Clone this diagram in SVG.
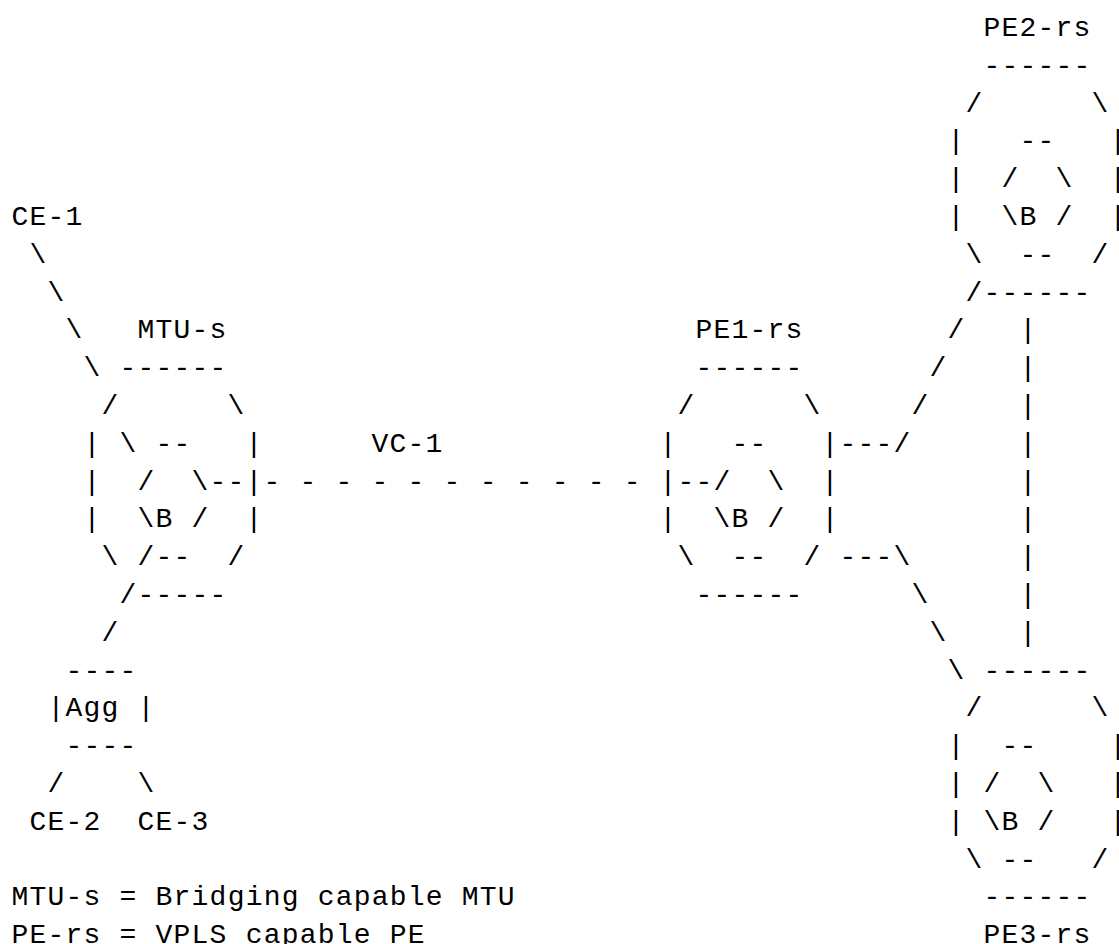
<svg xmlns="http://www.w3.org/2000/svg" width="1119" height="944" viewBox="0 0 1119 944" xml:space="preserve">
<style>
text { font-family: "Liberation Mono", "DejaVu Sans Mono", monospace; font-size: 28px; letter-spacing: 1.2px; fill: #000; white-space: pre; }
</style>
<rect x="0" y="0" width="1119" height="944" fill="#fff"/>
<g id="connectors">
<text x="29.6" y="262.8">\</text>
<text x="47.6" y="300.6">\</text>
<text x="65.6" y="338.4">\</text>
<text x="83.6" y="376.2">\</text>
<text x="101.6" y="640.8">/</text>
<text x="47.6" y="792">/</text>
<text x="137.6" y="792">\</text>
<g id="vc-1">
<text x="371.6" y="451.8">VC-1</text>
<text x="263.6" y="489.6">- - - - - - - - - - -</text>
</g>
<text x="839.6" y="451.8">---/</text>
<text x="911.6" y="414">/</text>
<text x="929.6" y="376.2">/</text>
<text x="947.6" y="338.4">/</text>
<text x="839.6" y="565.2">---\</text>
<text x="911.6" y="603">\</text>
<text x="929.6" y="640.8">\</text>
<text x="947.6" y="678.6">\</text>
<text x="1019.6" y="338.4">|</text>
<text x="1019.6" y="376.2">|</text>
<text x="1019.6" y="414">|</text>
<text x="1019.6" y="451.8">|</text>
<text x="1019.6" y="489.6">|</text>
<text x="1019.6" y="527.4">|</text>
<text x="1019.6" y="565.2">|</text>
<text x="1019.6" y="603">|</text>
<text x="1019.6" y="640.8">|</text>
</g>
<g id="ce-1">
<text x="11.6" y="225">CE-1</text>
</g>
<g id="mtu-s">
<text x="137.6" y="338.4">MTU-s</text>
<text x="119.6" y="376.2">------</text>
<text x="101.6" y="414">/      \</text>
<text x="83.6" y="451.8">| \ --   |</text>
<text x="83.6" y="489.6">|  /  \--|</text>
<text x="83.6" y="527.4">|  \B /  |</text>
<text x="101.6" y="565.2">\ /--  /</text>
<text x="119.6" y="603">/-----</text>
</g>
<g id="agg">
<text x="65.6" y="678.6">----</text>
<text x="47.6" y="716.4">|Agg |</text>
<text x="65.6" y="754.2">----</text>
</g>
<g id="ce-2">
<text x="29.6" y="829.8">CE-2</text>
</g>
<g id="ce-3">
<text x="137.6" y="829.8">CE-3</text>
</g>
<g id="pe1-rs">
<text x="695.6" y="338.4">PE1-rs</text>
<text x="695.6" y="376.2">------</text>
<text x="677.6" y="414">/      \</text>
<text x="659.6" y="451.8">|   --   |</text>
<text x="659.6" y="489.6">|--/  \  |</text>
<text x="659.6" y="527.4">|  \B /  |</text>
<text x="677.6" y="565.2">\  --  /</text>
<text x="695.6" y="603">------</text>
</g>
<g id="pe2-rs">
<text x="983.6" y="36">PE2-rs</text>
<text x="983.6" y="73.8">------</text>
<text x="965.6" y="111.6">/      \</text>
<text x="947.6" y="149.4">|   --   |</text>
<text x="947.6" y="187.2">|  /  \  |</text>
<text x="947.6" y="225">|  \B /  |</text>
<text x="965.6" y="262.8">\  --  /</text>
<text x="965.6" y="300.6">/------</text>
</g>
<g id="pe3-rs">
<text x="983.6" y="678.6">------</text>
<text x="965.6" y="716.4">/      \</text>
<text x="947.6" y="754.2">|  --    |</text>
<text x="947.6" y="792">| /  \   |</text>
<text x="947.6" y="829.8">| \B /   |</text>
<text x="965.6" y="867.6">\ --   /</text>
<text x="983.6" y="905.4">------</text>
<text x="983.6" y="943.2">PE3-rs</text>
</g>
<g id="legend">
<text x="11.6" y="905.4">MTU-s = Bridging capable MTU</text>
<text x="11.6" y="943.2">PE-rs = VPLS capable PE</text>
</g>
</svg>
